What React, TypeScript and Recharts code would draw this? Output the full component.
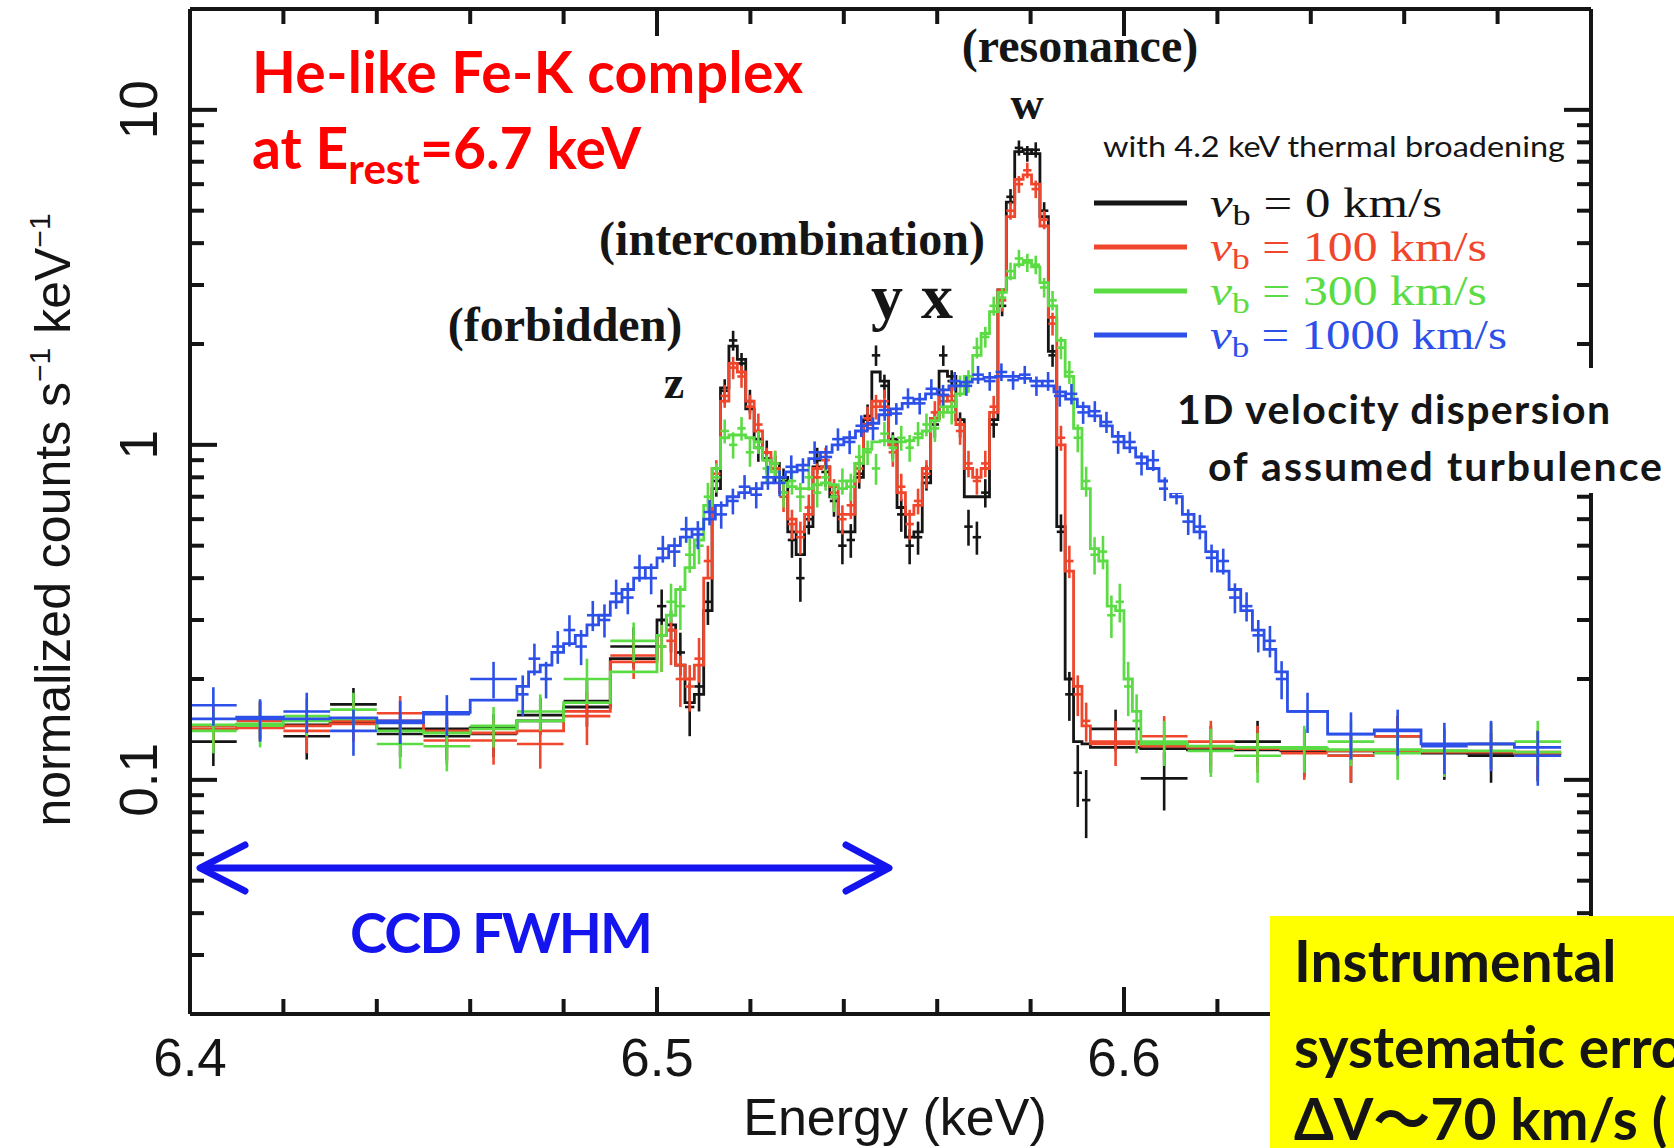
import React from 'react'
import { ComposedChart, Line, Scatter, ErrorBar, XAxis, YAxis } from 'recharts'

const W = 1674
const H = 1148

const INK = '#151515'
const RED = '#f0462c'
const GREEN = '#5cdc44'
const BLUE = '#2c50e8'

const SANS = "'Liberation Sans', Arial, Helvetica, sans-serif"
const SERIF = "'Liberation Serif', 'Times New Roman', serif"
const CALIBRI = "Lato, 'Noto Sans CJK JP', sans-serif"

// axis ticks
const majorX = [6.4, 6.5, 6.6, 6.7]
const minorX = [6.42, 6.44, 6.46, 6.48, 6.52, 6.54, 6.56, 6.58, 6.62, 6.64, 6.66, 6.68]
const allX = [...majorX, ...minorX]
// 6.7 sits under the yellow note in the original, so it gets no label
const labelledX = [6.4, 6.5, 6.6]
const majorY = [0.1, 1, 10]
const minorY = [0.03, 0.04, 0.05, 0.06, 0.07, 0.08, 0.09, 0.2, 0.3, 0.4, 0.5, 0.6, 0.7, 0.8, 0.9, 2, 3, 4, 5, 6, 7, 8, 9]

// bin edges (keV) shared by the v=0 and v=100 spectra
const lineEdges = [
  6.40, 6.41, 6.42, 6.43, 6.44, 6.45, 6.46, 6.47, 6.48, 6.49,
  6.50, 6.502, 6.504, 6.506, 6.508, 6.51, 6.5118, 6.5136, 6.5154, 6.5172,
  6.519, 6.5208, 6.5226, 6.5244, 6.5262, 6.528, 6.5298, 6.5316, 6.5334, 6.5352,
  6.537, 6.5388, 6.5406, 6.5424, 6.5442, 6.546, 6.5478, 6.5496, 6.5514, 6.5532,
  6.555, 6.5568, 6.5586, 6.5604, 6.5622, 6.564, 6.5658, 6.5676, 6.5694, 6.5712,
  6.573, 6.5748, 6.5766, 6.5784, 6.5802, 6.582, 6.5838, 6.5856, 6.5874, 6.5892,
  6.591, 6.5928, 6.6036, 6.6136, 6.6236, 6.6336, 6.6436, 6.6536, 6.6636, 6.6736,
  6.6836, 6.6936,
]

const greenEdges = [
  ...lineEdges.slice(0, 62),
  6.5946, 6.5964, 6.5982, 6.60, 6.6018, 6.6036, 6.6136, 6.6236, 6.6336, 6.6436,
  6.6536, 6.6636, 6.6736, 6.6836, 6.6936,
]

const blueEdges = [
  6.40, 6.41, 6.42, 6.43, 6.44, 6.45, 6.46, 6.47, 6.4725, 6.475,
  6.4775, 6.48, 6.4825, 6.485, 6.4875, 6.49, 6.4925, 6.495, 6.4975, 6.50,
  6.5025, 6.505, 6.5075, 6.51, 6.5125, 6.515, 6.5175, 6.52, 6.5225, 6.525,
  6.5275, 6.53, 6.5325, 6.535, 6.5375, 6.54, 6.5425, 6.545, 6.5475, 6.55,
  6.5525, 6.555, 6.5575, 6.56, 6.5625, 6.565, 6.5675, 6.57, 6.5725, 6.575,
  6.5775, 6.58, 6.5825, 6.585, 6.5875, 6.59, 6.5925, 6.595, 6.5975, 6.60,
  6.6025, 6.605, 6.6075, 6.61, 6.6125, 6.615, 6.6175, 6.62, 6.6225, 6.625,
  6.6275, 6.63, 6.6325, 6.635, 6.6436, 6.6536, 6.6636, 6.6736, 6.6836, 6.6936,
]

// v_b = 0 km/s
const blackModel = [
  0.145, 0.146, 0.146, 0.148, 0.142, 0.142, 0.143, 0.150, 0.165, 0.23,
  0.30, 0.29, 0.22, 0.17, 0.18,
  0.32, 0.74, 1.48, 1.97, 1.80, 1.28, 1.04, 0.91, 0.88, 0.80,
  0.55, 0.47, 0.57, 0.86, 0.86, 0.70, 0.55, 0.55, 0.80, 1.19,
  1.65, 1.55, 1.04, 0.65, 0.53, 0.55, 0.77, 1.20, 1.66, 1.60,
  1.19, 0.70, 0.70, 0.70, 1.19, 2.90, 5.30, 7.50, 7.60, 7.40,
  4.80, 1.90, 0.57, 0.20, 0.13, 0.128,
  0.125, 0.124, 0.123, 0.123, 0.122, 0.122, 0.121, 0.121, 0.120, 0.120,
]
const blackObs = [
  0.130, 0.152, 0.135, 0.168, 0.137, 0.135, 0.137, 0.156, 0.172, 0.25,
  0.33, 0.28, 0.24, 0.165, 0.19,
  0.34, 0.78, 1.45, 2.05, 1.75, 1.35, 0.98, 0.95, 0.85, 0.78,
  0.52, 0.40, 0.60, 0.90, 0.83, 0.68, 0.50, 0.52, 0.82, 1.22,
  1.85, 1.50, 1.00, 0.62, 0.50, 0.53, 0.80, 1.15, 1.85, 1.55,
  1.15, 0.57, 0.53, 0.72, 1.15, 2.60, 5.50, 7.70, 7.40, 7.60,
  5.00, 1.85, 0.55, 0.18, 0.105, 0.087,
  0.142, 0.101, 0.125, 0.130, 0.122, 0.118, 0.135, 0.120, 0.118, 0.119,
]
const blackErr = [
  0.02, 0.02, 0.02, 0.02, 0.02, 0.02, 0.02, 0.02, 0.028, 0.035,
  0.04, 0.04, 0.035, 0.03, 0.03,
  0.05, 0.08, 0.12, 0.14, 0.13, 0.11, 0.09, 0.08, 0.08, 0.07,
  0.06, 0.06, 0.06, 0.08, 0.08, 0.07, 0.06, 0.06, 0.08, 0.10,
  0.13, 0.12, 0.09, 0.07, 0.06, 0.06, 0.07, 0.10, 0.13, 0.12,
  0.10, 0.07, 0.06, 0.07, 0.10, 0.18, 0.30, 0.40, 0.40, 0.40,
  0.30, 0.14, 0.07, 0.03, 0.022, 0.02,
  0.02, 0.02, 0.02, 0.02, 0.02, 0.02, 0.02, 0.02, 0.02, 0.02,
]

// v_b = 100 km/s
const redModel = [
  0.142, 0.143, 0.145, 0.147, 0.150, 0.140, 0.138, 0.140, 0.160, 0.225,
  0.27, 0.28, 0.22, 0.20, 0.22,
  0.40, 0.85, 1.35, 1.75, 1.65, 1.35, 1.10, 0.95, 0.85, 0.72,
  0.60, 0.55, 0.62, 0.85, 0.86, 0.75, 0.62, 0.62, 0.88, 1.15,
  1.35, 1.30, 1.00, 0.72, 0.62, 0.66, 0.85, 1.20, 1.40, 1.35,
  1.15, 0.85, 0.80, 0.85, 1.25, 2.90, 4.80, 6.20, 6.40, 6.00,
  4.50, 2.40, 1.00, 0.42, 0.19, 0.145,
  0.128, 0.126, 0.125, 0.124, 0.123, 0.122, 0.122, 0.121, 0.121, 0.120,
]
const redObs = [
  0.145, 0.150, 0.140, 0.150, 0.158, 0.131, 0.131, 0.128, 0.155, 0.235,
  0.25, 0.26, 0.20, 0.19, 0.23,
  0.45, 0.82, 1.40, 1.70, 1.60, 1.30, 1.15, 0.90, 0.88, 0.70,
  0.58, 0.53, 0.65, 0.80, 0.90, 0.72, 0.60, 0.66, 0.85, 1.20,
  1.30, 1.35, 0.95, 0.75, 0.58, 0.68, 0.82, 1.25, 1.35, 1.40,
  1.10, 0.88, 0.78, 0.88, 1.30, 2.70, 5.00, 6.00, 6.60, 5.80,
  4.70, 2.30, 1.05, 0.45, 0.18, 0.150,
  0.130, 0.135, 0.130, 0.125, 0.120, 0.118, 0.135, 0.122, 0.128, 0.121,
]
const redErr = [
  0.02, 0.02, 0.02, 0.02, 0.02, 0.02, 0.02, 0.02, 0.028, 0.035,
  0.04, 0.04, 0.035, 0.03, 0.035,
  0.05, 0.08, 0.11, 0.13, 0.12, 0.11, 0.09, 0.08, 0.08, 0.07,
  0.06, 0.06, 0.06, 0.08, 0.08, 0.07, 0.06, 0.06, 0.08, 0.10,
  0.11, 0.11, 0.09, 0.07, 0.06, 0.06, 0.08, 0.10, 0.11, 0.11,
  0.10, 0.08, 0.07, 0.08, 0.10, 0.20, 0.30, 0.35, 0.35, 0.35,
  0.30, 0.18, 0.09, 0.05, 0.025, 0.02,
  0.02, 0.02, 0.02, 0.02, 0.02, 0.02, 0.02, 0.02, 0.02, 0.02,
]

// v_b = 300 km/s
const greenModel = [
  0.146, 0.147, 0.150, 0.152, 0.140, 0.138, 0.142, 0.150, 0.170, 0.21,
  0.27, 0.31, 0.37, 0.43, 0.52,
  0.66, 0.85, 1.05, 1.07, 1.07, 1.05, 0.98, 0.90, 0.83, 0.77,
  0.75, 0.74, 0.74, 0.76, 0.77, 0.76, 0.74, 0.78, 0.88, 0.97,
  1.02, 1.03, 1.02, 1.02, 1.03, 1.05, 1.10, 1.18, 1.25, 1.30,
  1.42, 1.60, 1.85, 2.15, 2.50, 2.85, 3.15, 3.45, 3.55, 3.40,
  3.05, 2.60, 2.05, 1.60, 1.12, 0.74,
  0.49, 0.45, 0.33, 0.32, 0.20, 0.16,
  0.128, 0.126, 0.125, 0.124, 0.123, 0.123, 0.122, 0.122, 0.121,
]
const greenObs = [
  0.140, 0.145, 0.155, 0.162, 0.128, 0.126, 0.145, 0.160, 0.200, 0.26,
  0.25, 0.34, 0.33, 0.47, 0.50,
  0.70, 0.80, 1.10, 1.00, 1.12, 0.95, 1.02, 0.85, 0.88, 0.72,
  0.78, 0.70, 0.80, 0.72, 0.80, 0.70, 0.78, 0.75, 0.92, 0.95,
  0.85, 1.08, 0.98, 1.05, 0.98, 1.08, 1.15, 1.12, 1.30, 1.25,
  1.50, 1.55, 1.95, 2.10, 2.60, 2.75, 3.30, 3.60, 3.50, 3.45,
  2.95, 2.70, 1.95, 1.65, 1.05, 0.78,
  0.47, 0.48, 0.31, 0.34, 0.19, 0.15,
  0.130, 0.122, 0.118, 0.125, 0.130, 0.120, 0.122, 0.128, 0.130,
]
const greenErr = [
  0.02, 0.02, 0.02, 0.02, 0.02, 0.02, 0.02, 0.02, 0.03, 0.035,
  0.04, 0.045, 0.05, 0.055, 0.06,
  0.07, 0.08, 0.09, 0.09, 0.09, 0.09, 0.08, 0.08, 0.08, 0.07,
  0.07, 0.07, 0.07, 0.07, 0.07, 0.07, 0.07, 0.07, 0.08, 0.08,
  0.09, 0.09, 0.09, 0.09, 0.09, 0.09, 0.09, 0.10, 0.10, 0.10,
  0.11, 0.12, 0.14, 0.15, 0.17, 0.19, 0.20, 0.22, 0.22, 0.22,
  0.20, 0.18, 0.15, 0.13, 0.10, 0.08,
  0.06, 0.055, 0.045, 0.045, 0.035, 0.03,
  0.02, 0.02, 0.02, 0.02, 0.02, 0.02, 0.02, 0.02, 0.02,
]

// v_b = 1000 km/s
const blueModel = [
  0.152, 0.154, 0.152, 0.153, 0.148, 0.159, 0.173,
  0.19, 0.21, 0.22, 0.24, 0.255, 0.27, 0.29, 0.31, 0.34, 0.37,
  0.40, 0.43, 0.46, 0.50, 0.53, 0.56, 0.60, 0.66, 0.70, 0.72,
  0.74, 0.77, 0.80, 0.83, 0.87, 0.91, 0.95, 1.00, 1.05, 1.10,
  1.16, 1.23, 1.28, 1.33, 1.37, 1.42, 1.46, 1.50, 1.54, 1.57,
  1.59, 1.60, 1.60, 1.58, 1.55, 1.50, 1.44, 1.37, 1.30, 1.22,
  1.14, 1.06, 0.98, 0.92, 0.85, 0.78, 0.70, 0.62, 0.55, 0.48,
  0.42, 0.37, 0.32, 0.28, 0.245, 0.21,
  0.16, 0.137, 0.141, 0.128, 0.128, 0.125,
]
const blueObs = [
  0.167, 0.152, 0.160, 0.140, 0.150, 0.157, 0.200,
  0.18, 0.23, 0.20, 0.25, 0.28, 0.25, 0.31, 0.30, 0.36, 0.35,
  0.43, 0.40, 0.49, 0.48, 0.56, 0.54, 0.63, 0.62, 0.68, 0.75,
  0.71, 0.80, 0.77, 0.86, 0.84, 0.95, 0.92, 1.04, 1.02, 1.14,
  1.12, 1.27, 1.24, 1.38, 1.33, 1.47, 1.41, 1.55, 1.50, 1.62,
  1.55, 1.65, 1.56, 1.62, 1.50, 1.55, 1.40, 1.42, 1.25, 1.26,
  1.17, 1.02, 1.02, 0.88, 0.90, 0.74, 0.72, 0.59, 0.57, 0.46,
  0.45, 0.35, 0.33, 0.27, 0.26, 0.20,
  0.16, 0.137, 0.140, 0.126, 0.128, 0.118,
]
const blueErr = [
  0.022, 0.022, 0.022, 0.022, 0.022, 0.022, 0.025,
  0.025, 0.025, 0.025, 0.028, 0.03, 0.03, 0.032, 0.034, 0.036, 0.038,
  0.04, 0.042, 0.045, 0.048, 0.05, 0.052, 0.055, 0.058, 0.06, 0.062,
  0.064, 0.066, 0.068, 0.07, 0.072, 0.074, 0.076, 0.08, 0.082, 0.085,
  0.088, 0.09, 0.092, 0.095, 0.098, 0.10, 0.10, 0.10, 0.10, 0.10,
  0.10, 0.10, 0.10, 0.10, 0.10, 0.10, 0.10, 0.10, 0.095, 0.09,
  0.085, 0.08, 0.075, 0.07, 0.065, 0.06, 0.056, 0.052, 0.048, 0.044,
  0.04, 0.036, 0.033, 0.03, 0.028, 0.026,
  0.022, 0.022, 0.022, 0.022, 0.022, 0.022,
]

// xAxis: the frame side each spectrum is bound to (both sides share one domain)
const series = [
  { name: 'v0', color: INK, edges: lineEdges, model: blackModel, obs: blackObs, err: blackErr, xAxis: 't' },
  { name: 'v100', color: RED, edges: lineEdges, model: redModel, obs: redObs, err: redErr, xAxis: 'b' },
  { name: 'v300', color: GREEN, edges: greenEdges, model: greenModel, obs: greenObs, err: greenErr, xAxis: 'b' },
  { name: 'v1000', color: BLUE, edges: blueEdges, model: blueModel, obs: blueObs, err: blueErr, xAxis: 'b' },
]

const legendRows = [
  { label: '0', color: INK, len: 232 },
  { label: '100', color: RED, len: 277 },
  { label: '300', color: GREEN, len: 277 },
  { label: '1000', color: BLUE, len: 297 },
]

// histogram outline: one point per bin start, plus the last bin end
function steps(edges: number[], model: number[]) {
  const pts = model.map((v, i) => ({ x: edges[i], y: v }))
  pts.push({ x: edges[edges.length - 1], y: model[model.length - 1] })
  return pts
}

// data points: bin centre, half bin width, 1 sigma
function crosses(edges: number[], obs: number[], err: number[]) {
  return obs.map((v, i) => ({
    x: (edges[i] + edges[i + 1]) / 2,
    y: v,
    xe: (edges[i + 1] - edges[i]) / 2,
    ye: err[i],
  }))
}

const axisStroke = { stroke: INK, strokeWidth: 4 }

// tick lines only, no label
const Blank = () => <g />

// bottom frame: inward tick (long at major values) and the label below
const BottomTick = (p: any) => {
  const v = Number(p.payload.value)
  const len = majorX.includes(v) ? 27 : 15
  return (
    <g>
      <line x1={p.x} x2={p.x} y1={p.y} y2={p.y - len} stroke={INK} strokeWidth={4} />
      {labelledX.includes(v) && (
        <text x={p.x} y={p.y + 43} textAnchor="middle" dominantBaseline="central" fontFamily={SANS} fontSize={53} fill={INK}>
          {v.toFixed(1)}
        </text>
      )}
    </g>
  )
}

// top frame: inward tick only
const TopTick = (p: any) => {
  const v = Number(p.payload.value)
  const len = majorX.includes(v) ? 27 : 15
  return <line x1={p.x} x2={p.x} y1={p.y} y2={p.y + len} stroke={INK} strokeWidth={4} />
}

const YTick = (p: any) => (
  <text
    x={p.x}
    y={p.y}
    transform={`rotate(-90 ${p.x} ${p.y})`}
    textAnchor="middle"
    dominantBaseline="central"
    fontFamily={SANS}
    fontSize={53}
    fill={INK}
  >
    {String(p.payload.value)}
  </text>
)

function Overlay() {
  return (
    <svg width={W} height={H} style={{ position: 'absolute', left: 0, top: 0, pointerEvents: 'none' }}>
      {/* axis titles */}
      <text x={895} y={1135} textAnchor="middle" fontFamily={SANS} fontSize={52} fill={INK}>
        Energy (keV)
      </text>
      <text transform="translate(70 520) rotate(-90)" textAnchor="middle" fontFamily={SANS} fontSize={50} fill={INK}>
        normalized counts s<tspan dy={-20} fontSize={30}>−1</tspan>
        <tspan dy={20}> keV</tspan>
        <tspan dy={-20} fontSize={30}>−1</tspan>
      </text>

      {/* red title */}
      <text x={252} y={93} fontFamily={CALIBRI} fontWeight={700} fontSize={57} fill="#ff0000" textLength={551}>
        He-like Fe-K complex
      </text>
      <text x={252} y={169} fontFamily={CALIBRI} fontWeight={700} fontSize={57} fill="#ff0000">
        at E<tspan dy={15} fontSize={42}>rest</tspan>
        <tspan dy={-15}>=6.7 keV</tspan>
      </text>

      {/* line labels */}
      <g fontFamily={SERIF} fontWeight={700} fill={INK} textAnchor="middle">
        <text x={1080} y={62} fontSize={48}>(resonance)</text>
        <text x={1027} y={119} fontSize={46}>w</text>
        <text x={792} y={255} fontSize={48}>(intercombination)</text>
        <text x={887} y={318} fontSize={64}>y</text>
        <text x={937} y={318} fontSize={64}>x</text>
        <text x={565} y={341} fontSize={48}>(forbidden)</text>
        <text x={674} y={398} fontSize={46}>z</text>
      </g>

      {/* legend */}
      <text x={1103} y={157} fontFamily={CALIBRI} fontSize={28} fill={INK} textLength={462} lengthAdjust="spacingAndGlyphs">
        with 4.2 keV thermal broadening
      </text>
      {legendRows.map((r, i) => (
        <g key={r.label}>
          <line x1={1094} x2={1187} y1={203 + i * 44} y2={203 + i * 44} stroke={r.color} strokeWidth={5} />
          <text
            x={1210}
            y={217 + i * 44}
            fontFamily={SERIF}
            fontSize={42}
            fill={r.color}
            textLength={r.len}
            lengthAdjust="spacingAndGlyphs"
          >
            <tspan fontStyle="italic">v</tspan>
            <tspan dy={8} fontSize={30}>b</tspan>
            <tspan dy={-8}> = {r.label} km/s</tspan>
          </text>
        </g>
      ))}

      {/* turbulence note */}
      <rect x={1168} y={368} width={506} height={125} fill="#ffffff" />
      <text x={1177} y={424} fontFamily={CALIBRI} fontWeight={700} fontSize={41} fill={INK} textLength={433}>
        1D velocity dispersion
      </text>
      <text x={1208} y={481} fontFamily={CALIBRI} fontWeight={700} fontSize={41} fill={INK} textLength={454}>
        of assumed turbulence
      </text>

      {/* CCD resolution arrow */}
      <g stroke="#1414ee" strokeWidth={7} fill="none" strokeLinecap="round" strokeLinejoin="round">
        <line x1={202} y1={868} x2={887} y2={868} />
        <polyline points="245,845 200,868 245,891" />
        <polyline points="846,845 889,868 846,891" />
      </g>
      <text x={350} y={953} fontFamily={CALIBRI} fontWeight={700} fontSize={56} fill="#1414ee" textLength={303}>
        CCD FWHM
      </text>

      {/* systematic error box */}
      <rect x={1270} y={916} width={404} height={232} fill="#ffff00" />
      <g fontFamily={CALIBRI} fontWeight={700} fontSize={57} fill={INK}>
        <text x={1294} y={982}>Instrumental</text>
        <text x={1294} y={1068}>systematic error</text>
        <text x={1294} y={1140}>ΔV〜70 km/s (</text>
      </g>
    </svg>
  )
}

export default function App() {
  return (
    <div style={{ position: 'absolute', left: 0, top: 0, width: W, height: H, overflow: 'hidden', background: '#fff' }}>
      <ComposedChart width={W} height={H} margin={{ top: 8, right: 81, bottom: 133, left: 188 }}>
        <XAxis
          xAxisId="b"
          dataKey="x"
          type="number"
          scale="linear"
          domain={[6.4, 6.7]}
          allowDataOverflow
          ticks={allX}
          interval={0}
          height={1}
          tickSize={0}
          tickMargin={0}
          tick={BottomTick}
          axisLine={axisStroke}
          tickLine={false}
        />
        <XAxis
          xAxisId="t"
          orientation="top"
          dataKey="x"
          type="number"
          scale="linear"
          domain={[6.4, 6.7]}
          allowDataOverflow
          ticks={allX}
          interval={0}
          height={1}
          tickSize={0}
          tickMargin={0}
          tick={TopTick}
          axisLine={axisStroke}
          tickLine={false}
        />
        <YAxis
          yAxisId="l"
          dataKey="y"
          type="number"
          scale="log"
          domain={[0.02, 20]}
          allowDataOverflow
          ticks={majorY}
          interval={0}
          width={1}
          tickSize={-27}
          tickMargin={78}
          tick={YTick}
          axisLine={axisStroke}
          tickLine={axisStroke}
        />
        <YAxis yAxisId="lm" type="number" scale="log" domain={[0.02, 20]} allowDataOverflow ticks={minorY} interval={0} width={1} tickSize={-15} tick={Blank} axisLine={false} tickLine={axisStroke} />
        <YAxis yAxisId="r" orientation="right" type="number" scale="log" domain={[0.02, 20]} allowDataOverflow ticks={majorY} interval={0} width={1} tickSize={-27} tick={Blank} axisLine={axisStroke} tickLine={axisStroke} />
        <YAxis yAxisId="rm" orientation="right" type="number" scale="log" domain={[0.02, 20]} allowDataOverflow ticks={minorY} interval={0} width={1} tickSize={-15} tick={Blank} axisLine={false} tickLine={axisStroke} />

        {series.map((s) => (
          <React.Fragment key={s.name}>
            <Line
              xAxisId={s.xAxis}
              yAxisId="l"
              data={steps(s.edges, s.model)}
              dataKey="y"
              type="stepAfter"
              stroke={s.color}
              strokeWidth={2.8}
              dot={false}
              activeDot={false}
              isAnimationActive={false}
            />
            <Scatter
              xAxisId={s.xAxis}
              yAxisId="l"
              data={crosses(s.edges, s.obs, s.err)}
              dataKey="y"
              fill={s.color}
              shape={() => <g />}
              isAnimationActive={false}
            >
              <ErrorBar dataKey="xe" direction="x" width={0} stroke={s.color} strokeWidth={2.6} isAnimationActive={false} />
              <ErrorBar dataKey="ye" direction="y" width={0} stroke={s.color} strokeWidth={2.6} isAnimationActive={false} />
            </Scatter>
          </React.Fragment>
        ))}
      </ComposedChart>
      <Overlay />
    </div>
  )
}
